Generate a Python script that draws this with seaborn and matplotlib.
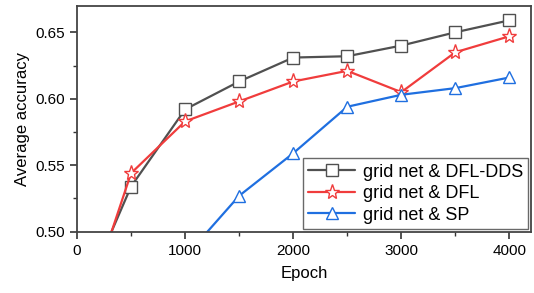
import numpy as np
import pandas as pd
import matplotlib
matplotlib.use('Agg')
import matplotlib.pyplot as plt
import seaborn as sns
from matplotlib.ticker import MultipleLocator

# data
epoch_a = [0, 500, 1000, 1500, 2000, 2500, 3000, 3500, 4000]
dds = [0.440, 0.534, 0.592, 0.613, 0.631, 0.632, 0.640, 0.650, 0.659]
dfl = [0.422, 0.544, 0.583, 0.598, 0.613, 0.621, 0.605, 0.635, 0.647]
epoch_sp = [1000, 1500, 2000, 2500, 3000, 3500, 4000]
sp = [0.481, 0.527, 0.559, 0.594, 0.603, 0.608, 0.616]

labels = ['grid net & DFL-DDS', 'grid net & DFL', 'grid net & SP']
colors = ['#505050', '#f03c3c', '#1f6fe0']
markers = ['s', '*', '^']

df = pd.concat([
    pd.DataFrame({'Epoch': epoch_a, 'acc': dds, 'model': labels[0]}),
    pd.DataFrame({'Epoch': epoch_a, 'acc': dfl, 'model': labels[1]}),
    pd.DataFrame({'Epoch': epoch_sp, 'acc': sp, 'model': labels[2]}),
])

sns.set_style('ticks')
plt.rcParams['font.family'] = ['Liberation Sans', 'DejaVu Sans']
plt.rcParams['text.color'] = 'black'
plt.rcParams['axes.labelcolor'] = 'black'

fig = plt.figure(figsize=(5.34, 2.93), dpi=100)
ax = fig.add_axes([0.1442, 0.2092, 0.8502, 0.7713])

msizes = [8, 11, 9]
for i, lab in enumerate(labels):
    d = df[df['model'] == lab]
    sns.lineplot(data=d, x='Epoch', y='acc', ax=ax, color=colors[i], lw=1.6,
                 marker=markers[i], markersize=msizes[i], markerfacecolor='white',
                 markeredgecolor=colors[i], markeredgewidth=1.0, label=lab)

ax.set_xlim(0, 4200)
ax.set_ylim(0.50, 0.67)
ax.xaxis.set_major_locator(MultipleLocator(1000))
ax.xaxis.set_minor_locator(MultipleLocator(500))
ax.yaxis.set_major_locator(MultipleLocator(0.05))
ax.yaxis.set_minor_locator(MultipleLocator(0.025))
ax.yaxis.set_major_formatter(matplotlib.ticker.FormatStrFormatter('%.2f'))
ax.tick_params(which='major', direction='out', length=5, width=1.2, labelsize=11,
               color='#333333', labelcolor='black')
ax.tick_params(which='minor', direction='out', length=3, width=1.0, color='#333333')
for s in ax.spines.values():
    s.set_linewidth(1.3)
    s.set_color('#444444')

ax.set_xlabel('Epoch', fontsize=12, labelpad=6)
ax.set_ylabel('Average accuracy', fontsize=12, labelpad=4)

leg = ax.legend(loc='lower right', fontsize=13, frameon=True, fancybox=False,
                borderaxespad=0.15, handlelength=2.6, handletextpad=0.4,
                labelspacing=0.25, borderpad=0.3)
leg.get_frame().set_edgecolor('#444444')
leg.get_frame().set_linewidth(1.0)

fig.savefig('out.png', dpi=100)
